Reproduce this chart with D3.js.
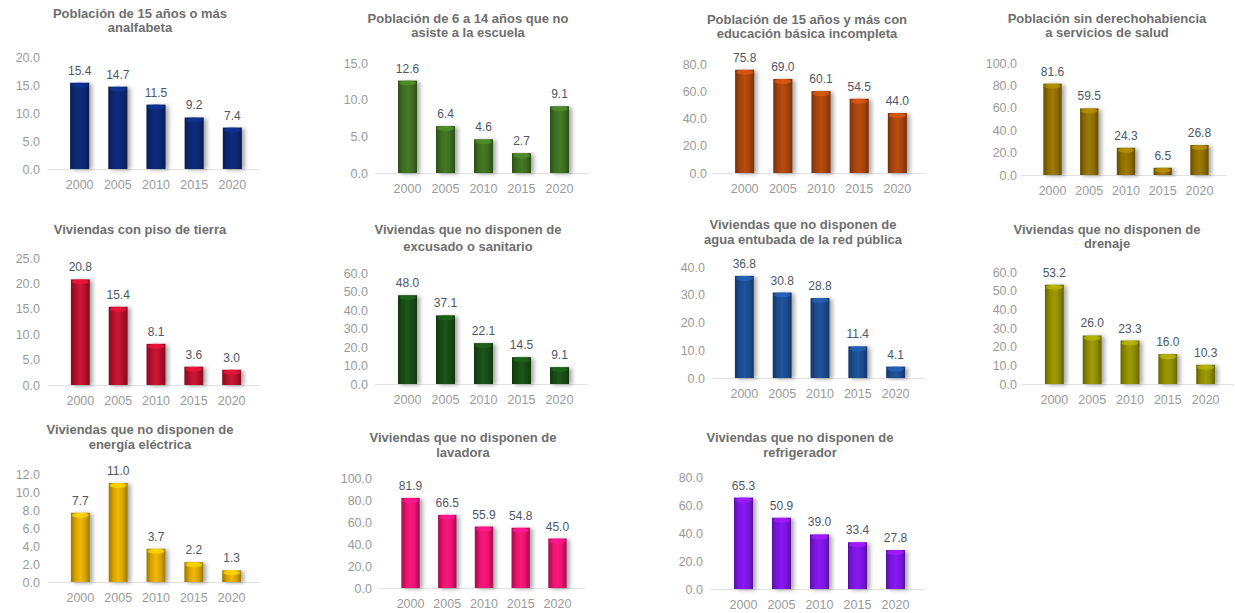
<!DOCTYPE html>
<html><head><meta charset="utf-8">
<script src="https://cdn.jsdelivr.net/npm/d3@7"></script>
<style>
html,body{margin:0;padding:0;background:#fff;}
svg{display:block;}
text{font-family:"Liberation Sans",Arial,sans-serif;}
</style></head>
<body>
<svg id="chart" width="1235" height="613"></svg>
<script>
const years = ["2000","2005","2010","2015","2020"];

const titles = [
  ["Población de 15 años o más","analfabeta"],
  ["Población de 6 a 14 años que no","asiste a la escuela"],
  ["Población de 15 años y más con","educación básica incompleta"],
  ["Población sin derechohabiencia","a servicios de salud"],
  ["Viviendas con piso de tierra"],
  ["Viviendas que no disponen de","excusado o sanitario"],
  ["Viviendas que no disponen de","agua entubada de la red pública"],
  ["Viviendas que no disponen de","drenaje"],
  ["Viviendas que no disponen de","energía eléctrica"],
  ["Viviendas que no disponen de","lavadora"],
  ["Viviendas que no disponen de","refrigerador"]
];

const analfabeta      = [15.4, 14.7, 11.5, 9.2, 7.4];
const noAsisteEscuela = [12.6, 6.4, 4.6, 2.7, 9.1];
const basicaIncompl   = [75.8, 69.0, 60.1, 54.5, 44.0];
const sinSalud        = [81.6, 59.5, 24.3, 6.5, 26.8];
const pisoTierra      = [20.8, 15.4, 8.1, 3.6, 3.0];
const sinExcusado     = [48.0, 37.1, 22.1, 14.5, 9.1];
const sinAgua         = [36.8, 30.8, 28.8, 11.4, 4.1];
const sinDrenaje      = [53.2, 26.0, 23.3, 16.0, 10.3];
const sinEnergia      = [7.7, 11.0, 3.7, 2.2, 1.3];
const sinLavadora     = [81.9, 66.5, 55.9, 54.8, 45.0];
const sinRefrigerador = [65.3, 50.9, 39.0, 33.4, 27.8];

const series = [analfabeta, noAsisteEscuela, basicaIncompl, sinSalud, pisoTierra,
  sinExcusado, sinAgua, sinDrenaje, sinEnergia, sinLavadora, sinRefrigerador];

const axisMax  = [20, 15, 80, 100, 25, 60, 40, 60, 12, 100, 80];
const axisStep = [5, 5, 20, 20, 5, 10, 10, 10, 2, 20, 20];

// layout (positions and styles, separate from the data)
const layout = [
  {x0:51,  x1:261,  yb:169, yt:57,  lx:40,   tx:140,  ty:[18,32],   color:"#0e2670"},
  {x0:379, x1:588,  yb:173, yt:63,  lx:368,  tx:468,  ty:[23,37],   color:"#3d6c20"},
  {x0:716, x1:926,  yb:173, yt:64,  lx:707,  tx:807,  ty:[24,38],   color:"#a4430c"},
  {x0:1025,x1:1227, yb:175, yt:63,  lx:1017, tx:1107, ty:[23,37],   color:"#8b6c00"},
  {x0:52,  x1:260,  yb:385, yt:258, lx:40,   tx:140,  ty:[234],     color:"#b3112c"},
  {x0:379, x1:588,  yb:384, yt:273, lx:368,  tx:468,  ty:[234,251], color:"#184b14"},
  {x0:716, x1:924,  yb:378, yt:267, lx:705,  tx:803,  ty:[229,244], color:"#1c4a8c"},
  {x0:1026,x1:1234, yb:384, yt:272, lx:1017, tx:1107, ty:[234,248], color:"#8c8a00"},
  {x0:52,  x1:260,  yb:582, yt:474, lx:40,   tx:140,  ty:[434,449], color:"#d6a300"},
  {x0:383, x1:585,  yb:588, yt:478, lx:372,  tx:463,  ty:[442,457], color:"#e3126d"},
  {x0:715, x1:924,  yb:589, yt:477, lx:703,  tx:800,  ty:[442,457], color:"#7a16dc"}
];

const svg = d3.select("#chart");
const defs = svg.append("defs");
const sh = defs.append("filter").attr("id","shadow").attr("x","-30%").attr("y","-10%").attr("width","180%").attr("height","130%");
sh.append("feGaussianBlur").attr("in","SourceAlpha").attr("stdDeviation",2.2).attr("result","b");
sh.append("feOffset").attr("in","b").attr("dx",3).attr("dy",1).attr("result","o");
sh.append("feComponentTransfer").attr("in","o").attr("result","o2")
  .append("feFuncA").attr("type","linear").attr("slope",0.35);
const mg = sh.append("feMerge");
mg.append("feMergeNode").attr("in","o2");
mg.append("feMergeNode").attr("in","SourceGraphic");

series.forEach((vals, i) => {
  const L = layout[i];
  const base = d3.color(L.color);
  const gid = "g" + i;
  const g = defs.append("linearGradient").attr("id", gid).attr("x1","0").attr("x2","1").attr("y1","0").attr("y2","0");
  [[0, base.darker(0.9)],[0.25, base],[0.5, base.brighter(0.35)],[0.75, base],[1, base.darker(0.9)]]
    .forEach(([o,c]) => g.append("stop").attr("offset", o).attr("stop-color", c));

  const x = d3.scaleBand().domain(years).range([L.x0, L.x1]).padding(0.5);
  const y = d3.scaleLinear().domain([0, axisMax[i]]).range([L.yb, L.yt]);
  const ticks = d3.range(0, axisMax[i] + axisStep[i] / 2, axisStep[i]);

  const panel = svg.append("g");

  // title
  const t = panel.append("text").attr("text-anchor","middle")
    .attr("font-size", 13).attr("font-weight","bold").attr("fill","#6e6e6e");
  titles[i].forEach((line, k) => {
    t.append("tspan").attr("x", L.tx).attr("y", L.ty[k]).text(line);
  });

  // y axis labels
  const ya = d3.axisLeft(y).tickValues(ticks).tickSize(0).tickPadding(0).tickFormat(d3.format(".1f"));
  const yg = panel.append("g").attr("transform", `translate(${L.lx},0)`).call(ya);
  yg.select(".domain").remove();
  yg.selectAll("text").attr("font-size", 12.5).attr("fill","#9a9a9a").attr("font-family",null);

  // baseline
  panel.append("line").attr("x1", L.x0 - 4).attr("x2", L.x1).attr("y1", L.yb + 0.5).attr("y2", L.yb + 0.5)
    .attr("stroke","#e2e2e2").attr("stroke-width",1);

  // x axis labels
  const xa = d3.axisBottom(x).tickSize(0).tickPadding(11);
  const xg = panel.append("g").attr("transform", `translate(0,${L.yb})`).call(xa);
  xg.select(".domain").remove();
  xg.selectAll("text").attr("font-size", 12.5).attr("fill","#9a9a9a").attr("font-family",null);

  // bars
  const bars = panel.selectAll(".bar").data(vals).join("g");
  bars.append("rect")
    .attr("x", (d, j) => x(years[j]))
    .attr("y", d => y(d))
    .attr("width", x.bandwidth())
    .attr("height", d => L.yb - y(d))
    .attr("fill", `url(#${gid})`)
    .attr("filter","url(#shadow)");
  bars.append("ellipse")
    .attr("cx", (d, j) => x(years[j]) + x.bandwidth() / 2)
    .attr("cy", d => y(d) + 2.5)
    .attr("rx", x.bandwidth() / 2 - 1)
    .attr("ry", 2.5)
    .attr("fill", base.brighter(0.9))
    .attr("opacity", 0.7);

  // value labels
  panel.selectAll(".val").data(vals).join("text")
    .attr("x", (d, j) => x(years[j]) + x.bandwidth() / 2)
    .attr("y", d => y(d) - 8)
    .attr("text-anchor","middle")
    .attr("font-size", 12)
    .attr("fill","#4e5668")
    .text(d => d3.format(".1f")(d));
});
</script>
</body></html>
